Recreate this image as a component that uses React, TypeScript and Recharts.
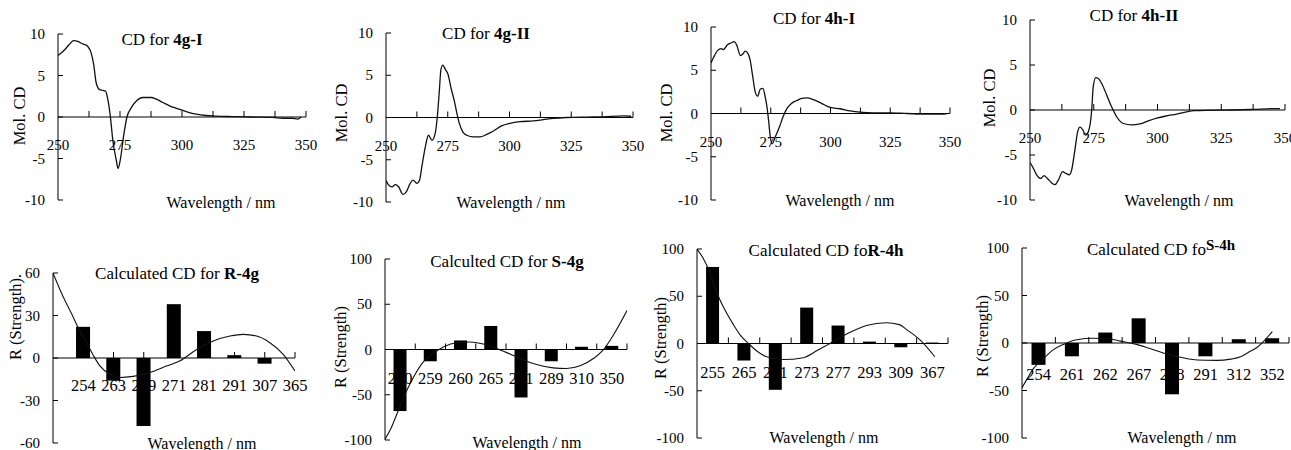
import React from 'react';
import { ComposedChart, Line, Bar, XAxis, YAxis, ReferenceLine } from 'recharts';

const FONT = '"Liberation Serif", "Times New Roman", Times, serif';

// measured CD spectra: wavelength (nm) and Mol. CD
const CD_4G_I_WL = [250, 252.7, 254.7, 256.3, 258, 260, 261.1, 262, 263.4, 264.4, 265.4, 266.8, 268.1, 269.2, 270.1, 271.1, 272.1, 273.5, 274.2, 275.1, 276.4, 277.8, 279.5, 281.5, 284.2, 287.6, 289.6, 292.3, 295, 297.7, 299.7, 302.3, 305.7, 309.7, 313.8, 320.5, 327.2, 336.6, 340.6, 344.6, 346.6, 348];
const CD_4G_I = [7.4, 8.1, 8.8, 9.2, 9.1, 8.8, 8.7, 8.5, 7.7, 6.3, 4.1, 3.3, 3.2, 3.1, 2.1, 0.1, -2.8, -5.2, -6.2, -5.2, -2.4, 0, 1.1, 1.9, 2.35, 2.35, 2.15, 1.75, 1.35, 1.05, 0.85, 0.6, 0.35, 0.18, 0.1, 0.05, 0, -0.05, -0.15, -0.15, -0.25, 0];

const CD_4G_II_WL = [250, 251.1, 252.4, 253.8, 255.1, 256.9, 258.2, 259.8, 260.9, 262.5, 263.6, 264.5, 265.9, 267.2, 268.6, 269.9, 270.9, 271.7, 272.2, 273, 274, 275, 276.4, 277.7, 278.7, 279.7, 281.1, 282.7, 285.4, 288.1, 290.8, 293.5, 296.8, 300.2, 304.2, 309.6, 313.7, 317.7, 323.1, 331.2, 337.9, 346, 349.3];
const CD_4G_II = [-7.45, -8.0, -8.2, -7.95, -8.2, -9.1, -8.8, -7.8, -7.4, -7.8, -7.4, -5.85, -3.5, -2.1, -2.7, -1.9, 0.5, 3.6, 5.6, 6.2, 5.7, 5.2, 3.4, 1.9, 0.5, -0.7, -1.7, -2.1, -2.3, -2.3, -2.0, -1.6, -1.0, -0.7, -0.5, -0.4, -0.25, -0.1, 0, 0.05, 0.08, 0.2, 0.15];

const CD_4H_I_WL = [250, 251.1, 252.8, 254.2, 255.3, 256.7, 258.4, 259.7, 260.9, 262.3, 263.4, 264.3, 265.3, 266.4, 267.5, 268.5, 269.5, 270.6, 271.7, 272.7, 273.4, 274.1, 274.8, 275.6, 276.9, 278.7, 280.1, 281.8, 283.8, 285.9, 288, 290.1, 292.9, 296.4, 299.9, 304, 308.2, 312.4, 318, 324.9, 331.9, 340.3, 345.8, 348.6];
const CD_4H_I = [5.85, 6.5, 7.3, 7.5, 7.4, 7.9, 8.15, 8.3, 7.8, 6.7, 6.9, 7.2, 7.0, 6.15, 4.2, 2.5, 2.0, 2.8, 2.9, 1.9, 0.8, -0.8, -2.7, -3.5, -2.7, -1.5, -0.4, 0.6, 1.2, 1.5, 1.75, 1.8, 1.6, 1.15, 0.7, 0.55, 0.3, 0.15, 0.08, 0.08, 0, -0.08, -0.08, -0.04];

const CD_4H_II_WL = [250, 251, 252.6, 254.2, 255.5, 256.8, 258.5, 259.8, 261.1, 262.8, 264.1, 265.4, 266.3, 267.6, 268.7, 269.6, 270.7, 271.8, 272.9, 274.2, 274.8, 275.8, 276.8, 278.1, 280.1, 282, 284, 286.6, 289.9, 293.1, 296.4, 299.7, 303.6, 307.5, 311.4, 314.7, 320.6, 329.7, 337.6, 345.4, 348];
const CD_4H_II = [-5.85, -6.3, -7.2, -7.6, -7.3, -7.6, -8.1, -8.3, -7.8, -6.85, -7.05, -7.2, -6.7, -4.45, -2.4, -1.9, -2.2, -2.8, -2.4, 0, 2.6, 3.6, 3.5, 2.95, 1.65, 0.35, -0.75, -1.5, -1.65, -1.55, -1.2, -0.9, -0.65, -0.45, -0.2, -0.08, -0.04, 0, 0.07, 0.15, 0.15];

const TOP_X_TICKS = [250, 262.5, 275, 287.5, 300, 312.5, 325, 337.5, 350];
const TOP_Y_TICKS = [-10, -5, 0, 5, 10];

// calculated rotational strengths, with the trend curve
const R4G_LABELS = ['254', '263', '279', '271', '281', '291', '307', '365'];
const R4G_R = [22, -16, -48, 38, 19, 2, -4, 0];
const R4G_FIT_X = [0, 0.34, 0.62, 0.84, 1.11, 1.33, 1.55, 1.88, 2.21, 2.65, 3.1, 3.65, 4.2, 4.75, 5.3, 5.85, 6.29, 6.73, 7.17, 7.61, 8.0];
const R4G_FIT = [60, 43, 31, 21, 10.8, 2, -5.6, -11.5, -13.8, -13, -11, -6.5, -2, 6, 12, 15.5, 16.7, 15.5, 10.8, 2.6, -9.2];
const R4G_Y_TICKS = [-60, -30, 0, 30, 60];

const S4G_LABELS = ['270', '259', '260', '265', '281', '289', '310', '350'];
const S4G_R = [-68, -13, 10, 26, -53, -13, 3, 4];
const S4G_FIT_X = [0, 0.2, 0.42, 0.64, 0.92, 1.26, 1.59, 1.95, 2.37, 2.81, 3.25, 3.69, 4.13, 4.57, 5.01, 5.56, 6.0, 6.45, 6.89, 7.2, 7.55, 8.0];
const S4G_FIT = [-99, -87, -69, -51, -32, -14, -4.4, 3, 7.4, 8.3, 6, 1.2, -5, -11.5, -16.6, -20.3, -21, -18, -10, -1, 16, 43];

const R4H_LABELS = ['255', '265', '271', '273', '277', '293', '309', '367'];
const R4H_R = [81, -18, -49, 38, 19, 2, -4, 1];
const R4H_FIT_X = [0, 0.2, 0.4, 0.63, 0.85, 1.16, 1.4, 1.64, 1.95, 2.22, 2.75, 3.39, 3.8, 4.13, 4.77, 5.4, 6.03, 6.45, 6.67, 7.1, 7.58];
const R4H_FIT = [100, 90, 76, 54, 38, 20, 8, 0, -9, -14, -17, -15, -8, -2, 10, 19, 22, 20, 15, 4, -14];

const S4H_LABELS = ['254', '261', '262', '267', '278', '291', '312', '352'];
const S4H_R = [-23, -14, 11, 26, -54, -14, 4, 5];
const S4H_FIT_X = [0, 0.15, 0.34, 0.62, 0.9, 1.24, 1.64, 2.14, 2.6, 2.95, 3.4, 3.8, 4.23, 4.6, 5.0, 5.5, 5.85, 6.25, 6.55, 6.85, 7.05, 7.5];
const S4H_FIT = [-47, -38, -27, -17.5, -8, -1.5, 3.5, 5, 4.4, 2, -1.2, -5.5, -10.5, -14, -16.8, -18.2, -18.3, -17, -14.5, -8.5, -4.4, 12];

const STRENGTH_Y_TICKS = [-100, -50, 0, 50, 100];

type Box = { x0: number; x1: number; y0: number; y1: number };

const PAD_L = 44;
const PAD_R = 22;
const PAD_T = 10;
const PAD_B = 12;

function frame(box: Box) {
  return {
    style: { position: 'absolute' as const, left: box.x0 - PAD_L, top: box.y0 - PAD_T },
    width: box.x1 - box.x0 + PAD_L + PAD_R,
    height: box.y1 - box.y0 + PAD_T + PAD_B,
    zeroY: PAD_T + (box.y1 - box.y0) / 2,
  };
}

const yTick = (p: any) => (
  <g>
    <line x1={PAD_L} x2={PAD_L + 5} y1={p.y} y2={p.y} stroke="#000" />
    <text x={PAD_L - 13} y={p.y} textAnchor="end" dominantBaseline="central" fontFamily={FONT} fontSize={15} fill="#000">
      {p.payload.value}
    </text>
  </g>
);

function SpectrumPanel({ box, wl, cd }: { box: Box; wl: number[]; cd: number[] }) {
  const f = frame(box);
  const data = wl.map((w, i) => ({ wl: w, cd: cd[i] }));
  const xTick = (p: any) => {
    const v = p.payload.value;
    return (
      <g>
        {v > 250 && <line x1={p.x} x2={p.x} y1={f.zeroY - 6} y2={f.zeroY} stroke="#000" />}
        {v % 25 === 0 && (
          <text x={p.x} y={f.zeroY + 28} textAnchor="middle" dominantBaseline="central" fontFamily={FONT} fontSize={15} fill="#000">
            {v}
          </text>
        )}
      </g>
    );
  };
  return (
    <div style={f.style}>
      <ComposedChart width={f.width} height={f.height} data={data} margin={{ top: PAD_T, right: PAD_R, bottom: 0, left: 0 }}>
        <XAxis type="number" dataKey="wl" domain={[250, 350]} ticks={TOP_X_TICKS} interval={0} height={PAD_B}
          axisLine={false} tickLine={false} allowDataOverflow tick={xTick} />
        <YAxis type="number" domain={[-10, 10]} ticks={TOP_Y_TICKS} interval={0} width={PAD_L}
          axisLine={{ stroke: '#000' }} tickLine={false} tick={yTick} />
        <ReferenceLine y={0} stroke="#000" strokeWidth={1.2} />
        <Line type="monotone" dataKey="cd" stroke="#111" strokeWidth={1.3} dot={false} isAnimationActive={false} />
      </ComposedChart>
    </div>
  );
}

type BarProps = {
  box: Box; yMax: number; yTicks: number[]; labels: string[]; values: number[];
  first: number; fitX: number[]; fit: number[]; barSize: number; labelDy: number;
};

function BarPanel({ box, yMax, yTicks, labels, values, first, fitX, fit, barSize, labelDy }: BarProps) {
  const f = frame(box);
  const data = labels.map((_, i) => ({ pos: i + first, r: values[i] }));
  const fitData = fitX.map((x, i) => ({ pos: x, fit: fit[i] }));
  const ticks = first === 1
    ? labels.map((_, i) => i + 1)
    : labels.flatMap((_, i) => [i + 0.5, i + 1]);
  const xTick = (p: any) => {
    const v = p.payload.value;
    const li = v - first;
    const label = Number.isInteger(li) ? labels[li] : undefined;
    return (
      <g>
        {Number.isInteger(v) && v > 0 && <line x1={p.x} x2={p.x} y1={f.zeroY - 6} y2={f.zeroY} stroke="#000" />}
        {label && (
          <text x={p.x} y={f.zeroY + labelDy} textAnchor="middle" dominantBaseline="central" fontFamily={FONT} fontSize={16.5} fill="#000">
            {label}
          </text>
        )}
      </g>
    );
  };
  // the numeric x axis gives bars a tiny band, so draw each one at a fixed width around its centre
  const barShape = (p: any) => {
    const h = Math.abs(p.height || 0);
    if (!h) return <g />;
    const y = Math.min(p.y, p.y + p.height);
    return <rect x={p.x + p.width / 2 - barSize / 2} y={y} width={barSize} height={h} fill="#000" />;
  };
  return (
    <div style={f.style}>
      <ComposedChart width={f.width} height={f.height} data={data} margin={{ top: PAD_T, right: PAD_R, bottom: 0, left: 0 }}>
        <XAxis type="number" dataKey="pos" domain={[0, labels.length]} ticks={ticks} interval={0} height={PAD_B}
          axisLine={false} tickLine={false} allowDataOverflow tick={xTick} />
        <YAxis type="number" domain={[-yMax, yMax]} ticks={yTicks} interval={0} width={PAD_L}
          axisLine={{ stroke: '#000' }} tickLine={false} tick={yTick} allowDataOverflow />
        <ReferenceLine y={0} stroke="#000" strokeWidth={1.2} />
        <Bar dataKey="r" fill="#000" shape={barShape} isAnimationActive={false} />
        <Line data={fitData} dataKey="fit" type="monotone" stroke="#111" strokeWidth={1.1} dot={false} isAnimationActive={false} />
      </ComposedChart>
    </div>
  );
}

const TITLES = [
  { x: 162, y: 39, text: 'CD for ', bold: '4g-I' },
  { x: 486, y: 33, text: 'CD for ', bold: '4g-II' },
  { x: 814, y: 18, text: 'CD for ', bold: '4h-I' },
  { x: 1134, y: 15, text: 'CD for ', bold: '4h-II' },
  { x: 177, y: 273, text: 'Calculated CD for ', bold: 'R-4g' },
  { x: 507, y: 261, text: 'Calculted CD for ', bold: 'S-4g' },
  { x: 826, y: 250, text: 'Calculated CD fo', bold: 'R-4h' },
  { x: 1161, y: 249, text: 'Calculated CD fo', bold: 'S-4h', raised: true },
];

const Y_TITLES = [
  { x: 19, y: 116, text: 'Mol. CD' },
  { x: 341, y: 113, text: 'Mol. CD' },
  { x: 666, y: 113, text: 'Mol. CD' },
  { x: 989, y: 98, text: 'Mol. CD' },
  { x: 15, y: 317, text: 'R (Strength).' },
  { x: 340, y: 347, text: 'R (Strength)' },
  { x: 660, y: 338, text: 'R (Strength)' },
  { x: 982, y: 336, text: 'R (Strength)' },
];

const X_TITLES = [
  { x: 221, y: 202 }, { x: 511, y: 202 }, { x: 840, y: 200 }, { x: 1179, y: 200 },
  { x: 202, y: 443 }, { x: 527, y: 442 }, { x: 824, y: 437 }, { x: 1182, y: 437 },
];

export default function App() {
  return (
    <div style={{ position: 'absolute', left: 0, top: 0, width: 1291, height: 450, overflow: 'hidden', background: '#fff' }}>
      <SpectrumPanel box={{ x0: 58, x1: 306, y0: 34, y1: 200 }} wl={CD_4G_I_WL} cd={CD_4G_I} />
      <SpectrumPanel box={{ x0: 386, x1: 633, y0: 33, y1: 202 }} wl={CD_4G_II_WL} cd={CD_4G_II} />
      <SpectrumPanel box={{ x0: 711, x1: 950, y0: 27, y1: 200 }} wl={CD_4H_I_WL} cd={CD_4H_I} />
      <SpectrumPanel box={{ x0: 1030, x1: 1285, y0: 20, y1: 200 }} wl={CD_4H_II_WL} cd={CD_4H_II} />

      <BarPanel box={{ x0: 53, x1: 295, y0: 273, y1: 443 }} yMax={60} yTicks={R4G_Y_TICKS} labels={R4G_LABELS}
        values={R4G_R} first={1} fitX={R4G_FIT_X} fit={R4G_FIT} barSize={14} labelDy={27} />
      <BarPanel box={{ x0: 385, x1: 627, y0: 259, y1: 440 }} yMax={100} yTicks={STRENGTH_Y_TICKS} labels={S4G_LABELS}
        values={S4G_R} first={0.5} fitX={S4G_FIT_X} fit={S4G_FIT} barSize={13} labelDy={29} />
      <BarPanel box={{ x0: 697, x1: 948, y0: 249, y1: 438 }} yMax={100} yTicks={STRENGTH_Y_TICKS} labels={R4H_LABELS}
        values={R4H_R} first={0.5} fitX={R4H_FIT_X} fit={R4H_FIT} barSize={13} labelDy={29} />
      <BarPanel box={{ x0: 1022, x1: 1289, y0: 248, y1: 438 }} yMax={100} yTicks={STRENGTH_Y_TICKS} labels={S4H_LABELS}
        values={S4H_R} first={0.5} fitX={S4H_FIT_X} fit={S4H_FIT} barSize={14} labelDy={31} />

      <svg width={1291} height={450} style={{ position: 'absolute', left: 0, top: 0, pointerEvents: 'none' }}
        fontFamily={FONT} fill="#000">
        {TITLES.map((t) => (
          <text key={t.x} x={t.x} y={t.y} textAnchor="middle" dominantBaseline="central" fontSize={17}>
            {t.text}
            <tspan fontWeight="bold" fontSize={t.raised ? 15 : 17} dy={t.raised ? -4 : 0}>{t.bold}</tspan>
          </text>
        ))}
        {Y_TITLES.map((t) => (
          <text key={t.x} x={t.x} y={t.y} textAnchor="middle" dominantBaseline="central" fontSize={16.5}
            transform={`rotate(-90 ${t.x} ${t.y})`}>
            {t.text}
          </text>
        ))}
        {X_TITLES.map((t) => (
          <text key={t.x} x={t.x} y={t.y} textAnchor="middle" dominantBaseline="central" fontSize={16}>
            Wavelength / nm
          </text>
        ))}
      </svg>
    </div>
  );
}
